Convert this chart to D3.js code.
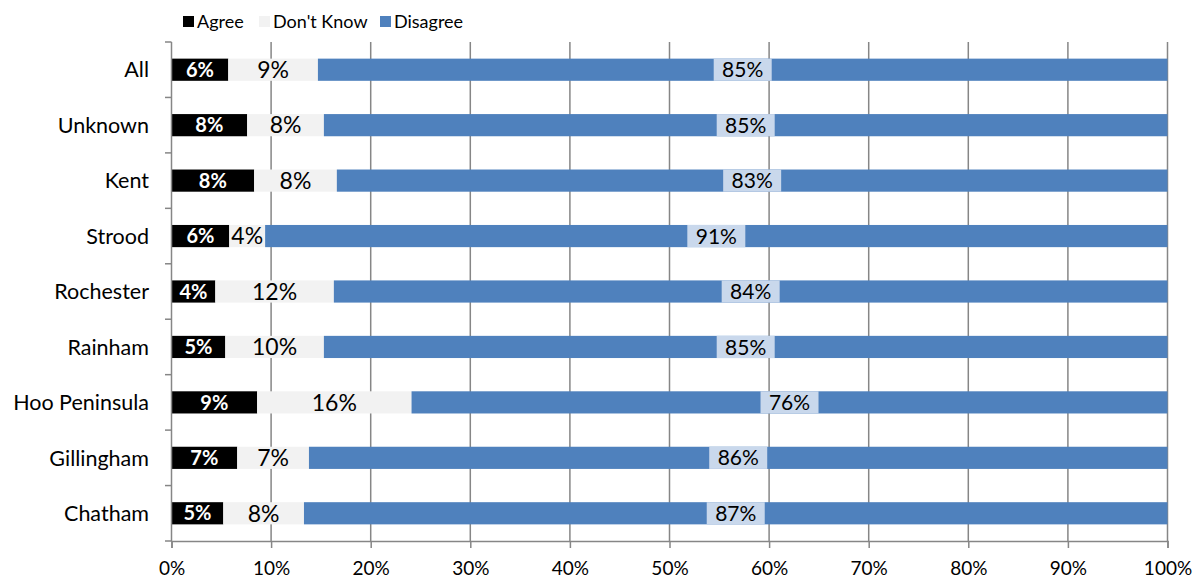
<!DOCTYPE html>
<html><head><meta charset="utf-8">
<script src="https://cdn.jsdelivr.net/npm/d3@7/dist/d3.min.js"></script>
<style>body{margin:0;background:#fff}svg text{font-family:Lato,"Open Sans",sans-serif}</style>
</head><body><svg id="c" width="1198" height="582"></svg>
<script>
const categories = ["All","Unknown","Kent","Strood","Rochester","Rainham","Hoo Peninsula","Gillingham","Chatham"];
const seriesNames = ["Agree","Don't Know","Disagree"];
const agree    = [5.7, 7.6, 8.3, 5.8, 4.4, 5.4, 8.6, 6.6, 5.2];
const dontKnow = [9.0, 7.7, 8.3, 3.6, 11.9, 9.9, 15.5, 7.2, 8.1];
const disagree = [85.3, 84.7, 83.4, 90.6, 83.7, 84.7, 75.9, 86.2, 86.7];
const xTicks = [0,10,20,30,40,50,60,70,80,90,100];
const colors = ["#000000","#f2f2f2","#4f81bd"];

const svg = d3.select("#c");
const x = d3.scaleLinear().domain([0,100]).range([171.5,1167.5]);
const y = d3.scaleBand().domain(categories).range([42,541]).paddingInner(0.6).paddingOuter(0.3);
const band = d3.scaleBand().domain(categories).range([42,541]);

// gridlines
svg.append("g").selectAll("line").data(xTicks.slice(1)).join("line")
  .attr("x1",d=>x(d)).attr("x2",d=>x(d)).attr("y1",42).attr("y2",541)
  .attr("stroke","#868686").attr("stroke-width",1.5);

// stacked data
const rows = categories.map((c,i)=>({cat:c, vals:[agree[i],dontKnow[i],disagree[i]]}));
const stack = d3.stack().keys([0,1,2]).value((d,k)=>d.vals[k]);
const layers = stack(rows);

const g = svg.append("g");
layers.forEach((layer,k)=>{
  g.selectAll(null).data(layer).join("rect")
    .attr("x",d=>x(d[0])).attr("width",d=>x(d[1])-x(d[0]))
    .attr("y",d=>y(d.data.cat)).attr("height",y.bandwidth())
    .attr("fill",colors[k]);
});

// labels
const fmt = v=>Math.round(v)+"%";
// agree
g.selectAll(null).data(layers[0]).join("text")
  .attr("x",d=>(x(d[0])+x(d[1]))/2).attr("y",d=>y(d.data.cat)+y.bandwidth()/2)
  .attr("dy","0.36em").attr("text-anchor","middle").attr("fill","#fff")
  .attr("font-weight","bold").attr("font-size",20).text(d=>fmt(d[1]-d[0]));
// don't know
g.selectAll(null).data(layers[1]).join("text")
  .attr("x",d=>(x(d[0])+x(d[1]))/2).attr("y",d=>y(d.data.cat)+y.bandwidth()/2)
  .attr("dy","0.36em").attr("text-anchor","middle").attr("fill","#000")
  .attr("font-size",23).text(d=>fmt(d[1]-d[0]));
// disagree with box
const dl = g.selectAll(null).data(layers[2]).join("g")
  .attr("transform",d=>`translate(${(x(d[0])+x(d[1]))/2},${y(d.data.cat)})`);
dl.append("rect").attr("x",-29).attr("width",58).attr("y",0).attr("height",y.bandwidth())
  .attr("fill","#c9d8ec");
dl.append("text").attr("y",y.bandwidth()/2).attr("dy","0.36em").attr("text-anchor","middle")
  .attr("font-size",21).attr("fill","#000").text(d=>fmt(d[1]-d[0]));

// y axis
const ya = svg.append("g");
ya.append("line").attr("x1",171.5).attr("x2",171.5).attr("y1",42).attr("y2",541).attr("stroke","#868686").attr("stroke-width",1.5);
ya.selectAll(null).data(d3.range(categories.length+1)).join("line")
  .attr("x1",165).attr("x2",171.5).attr("y1",i=>42+i*band.step()).attr("y2",i=>42+i*band.step())
  .attr("stroke","#868686").attr("stroke-width",1.5);
ya.selectAll(null).data(categories).join("text")
  .attr("x",149).attr("y",d=>band(d)+band.bandwidth()/2).attr("dy","0.36em")
  .attr("text-anchor","end").attr("font-size",21.5).attr("fill","#000").text(d=>d);

// x axis
const xa = svg.append("g").attr("transform","translate(0,541)")
  .call(d3.axisBottom(x).tickValues(xTicks).tickFormat(d=>d+"%").tickSize(7).tickPadding(14));
xa.select(".domain").attr("stroke","#868686").attr("stroke-width",1.5);
xa.selectAll(".tick line").attr("stroke","#868686").attr("stroke-width",1.5);
xa.selectAll("text").attr("font-size",19).attr("fill","#000").attr("font-family","Lato,'Open Sans',sans-serif");

// legend
const lg = svg.append("g");
const lx = [183, 259, 380];
seriesNames.forEach((n,i)=>{
  lg.append("rect").attr("x",lx[i]).attr("y",16).attr("width",11).attr("height",11).attr("fill",colors[i]);
  lg.append("text").attr("x",lx[i]+14).attr("y",27.5).attr("font-size",18).attr("fill","#000").text(n);
});
</script></body></html>
